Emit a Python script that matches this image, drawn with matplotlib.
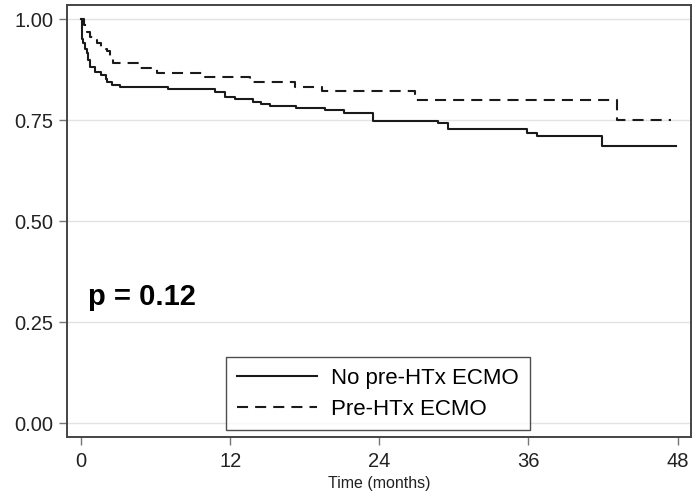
import matplotlib.pyplot as plt
import numpy as np

plt.rcParams['font.family'] = ['Liberation Sans', 'DejaVu Sans']

# Kaplan-Meier steps (time in months, survival after the step)
t_no_ecmo = [0.0, 0.05, 0.12, 0.3, 0.45, 0.6, 0.75, 1.1, 1.6, 2.0, 2.1, 2.5, 3.1,
             7.0, 10.8, 11.6, 12.4, 13.8, 14.5, 15.2, 17.3, 19.6, 21.2, 23.5,
             28.7, 29.5, 35.9, 36.7, 41.9, 47.9]
s_no_ecmo = [1.0, 0.95, 0.94, 0.925, 0.916, 0.90, 0.882, 0.87, 0.862, 0.852, 0.845, 0.837, 0.831,
             0.826, 0.819, 0.808, 0.803, 0.796, 0.790, 0.785, 0.780, 0.774, 0.767, 0.749,
             0.742, 0.728, 0.719, 0.710, 0.687, 0.687]

t_ecmo = [0.0, 0.2, 0.45, 0.7, 1.0, 1.25, 1.6, 2.0, 2.1, 2.35, 2.6, 4.7, 6.1,
          10.0, 13.6, 17.2, 19.4, 26.9, 43.1, 47.5]
s_ecmo = [1.0, 0.985, 0.969, 0.957, 0.948, 0.94, 0.932, 0.925, 0.92, 0.907, 0.892, 0.878, 0.866,
          0.856, 0.845, 0.833, 0.821, 0.801, 0.75, 0.75]

labels = ['No pre-HTx ECMO', 'Pre-HTx ECMO']
xticks = [0, 12, 24, 36, 48]
yticks = [0.0, 0.25, 0.5, 0.75, 1.0]

fig = plt.figure(figsize=(6.92, 4.95), dpi=100)
ax = fig.add_axes([0.0968, 0.1162, 0.9012, 0.8737])

ax.step(t_no_ecmo, s_no_ecmo, where='post', color='#1a1a1a', lw=1.5, label=labels[0])
ax.step(t_ecmo, s_ecmo, where='post', color='#1a1a1a', lw=1.5, dashes=(5.3, 3.4), label=labels[1])

ax.set_xlim(-1.13, 49.05)
ax.set_ylim(-0.035, 1.035)
ax.set_xticks(xticks)
ax.set_yticks(yticks)
ax.set_yticklabels(['%.2f' % v for v in yticks])
ax.grid(axis='y', color='#e3e3e3', lw=1.0)
ax.set_axisbelow(True)

for sp in ax.spines.values():
    sp.set_color('#444444')
    sp.set_linewidth(1.4)

ax.tick_params(axis='both', direction='out', length=5.8, width=1.0, color='#777777',
               labelsize=14.5, labelcolor='#222222')
ax.tick_params(axis='y', pad=4)
ax.tick_params(axis='x', pad=5)
ax.set_xlabel('Time (months)', fontsize=11.5, color='#222222', labelpad=3)

ax.text(0.56, 0.3126, 'p = 0.12', fontsize=21, fontweight='bold', ha='left', va='center')

# legend box: left edge at 226 px, bottom 7 px above the axes frame
leg = ax.legend(loc='lower left', bbox_to_anchor=(0.2549, 0.0162),
                fontsize=16, handlelength=3.6, handletextpad=0.66, labelspacing=0.45,
                borderpad=0.48, borderaxespad=0.0, frameon=True, fancybox=False)
leg.get_frame().set_edgecolor('#222222')
leg.get_frame().set_linewidth(1.0)

plt.savefig('out.png', dpi=100)
